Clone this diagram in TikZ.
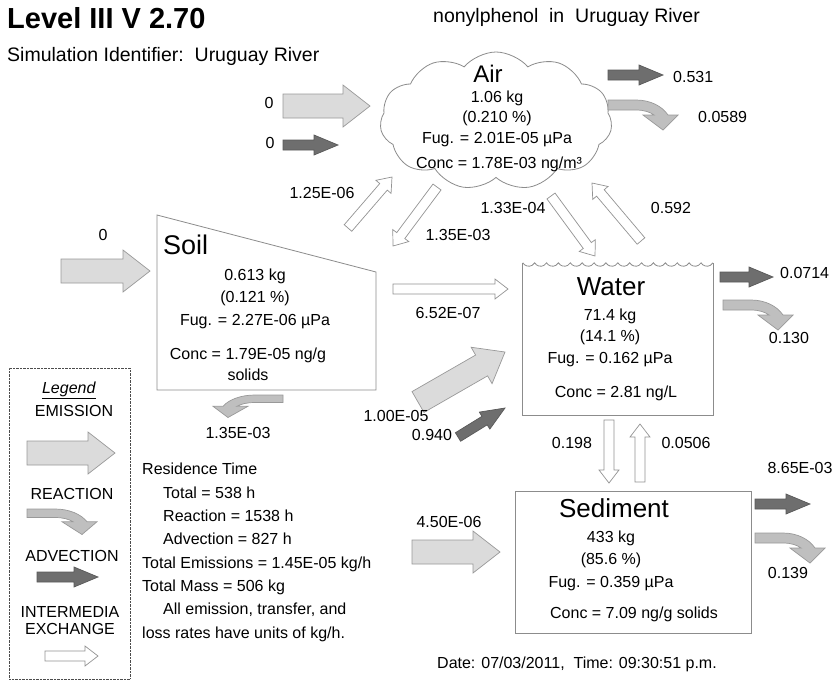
\documentclass[tikz,border=0pt]{standalone}
\usepackage{fontspec}
\setmainfont{Liberation Sans}
\usetikzlibrary{calc, shapes.symbols}

\tikzset{
  shaft/.store in=\fsh, headw/.store in=\fhw, headl/.store in=\fhl,
  emis/.style={draw=gray!80, fill=gray!28, line width=0.7pt, shaft=12pt, headw=21pt, headl=27pt},
  adv/.style={draw=black!65, fill=black!57, line width=0.7pt, shaft=5pt, headw=10pt, headl=24pt},
  inter/.style={draw=gray!85, fill=white, line width=0.7pt, shaft=5pt, headw=10pt, headl=13pt},
  reac/.style={draw=gray!80, fill=gray!50, line width=0.7pt},
  box/.style={draw=black!45, line width=0.8pt},
  txt/.style={inner sep=0pt, font=\fontsize{16}{19}\selectfont},
  big/.style={inner sep=0pt, font=\fontsize{26}{26}\selectfont},
  lossarrow/.pic={
    \draw[reac] (0,0) -- (28,0) .. controls (42,0) and (54,6) .. (60,15) -- (70,15)
      -- (55,30) -- (35,15) -- (46,15) .. controls (42,12) and (36,10) .. (28,10)
      -- (0,10) -- cycle;
  }
}

% block arrow from tail to tip
\newcommand{\flow}[3][]{%
  \path[#1, draw=none, fill=none] ($(#3)!\fhl!(#2)$) coordinate (fh);
  \draw[#1] ($(#2)!\fsh!90:(#3)$) -- ($(fh)!\fsh!90:(#3)$) -- ($(fh)!\fhw!90:(#3)$)
    -- (#3) -- ($(fh)!\fhw!-90:(#3)$) -- ($(fh)!\fsh!-90:(#3)$)
    -- ($(#2)!\fsh!-90:(#3)$) -- cycle;
}

\begin{document}
\begin{tikzpicture}[x=1pt, y=-1pt]
  \path[use as bounding box, fill=white] (0,0) rectangle (839,681);

  % headings
  \node[txt, anchor=base west, font=\bfseries\fontsize{29}{30}\selectfont] (title) at (7,28) {Level III V 2.70};
  \node[txt, anchor=base west, font=\fontsize{19.5}{20}\selectfont] (simid) at (7,61) {Simulation Identifier:\ \ Uruguay River};
  \node[txt, anchor=base west, font=\fontsize{19.5}{20}\selectfont] (chem) at (433,22) {nonylphenol\ \ in\ \ Uruguay River};

  % compartments (multi-line nodes sit on the baseline of their last line)
  \node[cloud, box, cloud puffs=11, cloud puff arc=100, aspect=1.68, minimum width=232pt, minimum height=138pt] (air) at (496,121) {};
  \node[big, font=\fontsize{24}{24}\selectfont, anchor=base] (airname) at (488,82) {Air};
  \node[txt, align=center, anchor=base, font=\fontsize{16}{20.5}\selectfont] (airdata) at (497,143) {1.06 kg\\(0.210 \%)\\Fug. = 2.01E-05 µPa};
  \node[txt, anchor=base] (airconc) at (499,168) {Conc = 1.78E-03 ng/m³};

  \draw[box] (157,215) coordinate (soilnw) -- (376,272) -- (376,390) -- (157,390) -- cycle;
  \node[big, font=\fontsize{27}{27}\selectfont, anchor=base west] (soilname) at (163,254) {Soil};
  \node[txt, align=center, anchor=base, font=\fontsize{16}{22.5}\selectfont] (soildata) at (255,325) {0.613 kg\\(0.121 \%)\\Fug. = 2.27E-06 µPa};
  \node[txt, align=center, anchor=base, font=\fontsize{16}{21}\selectfont] (soilconc) at (248,380) {Conc = 1.79E-05 ng/g\\solids};

  \node[minimum width=190pt, minimum height=152pt, inner sep=0pt] (water) at (618,339) {};
  \draw[box] (water.north west) -- (water.south west) -- (water.south east) -- (water.north east);
  \draw[box] (water.north west) \foreach \i in {1,...,16} {arc[start angle=150, end angle=30, radius=6.86]};
  \node[big, anchor=base] (watername) at (611,295) {Water};
  \node[txt, align=center, anchor=base, font=\fontsize{16}{21.5}\selectfont] (waterdata) at (610,363) {71.4 kg\\(14.1 \%)\\Fug. = 0.162 µPa};
  \node[txt, anchor=base] (waterconc) at (616,397) {Conc = 2.81 ng/L};

  \node[box, minimum width=236pt, minimum height=142pt, inner sep=0pt] (sed) at (633,562) {};
  \node[big, anchor=base] (sedname) at (614,517) {Sediment};
  \node[txt, align=center, anchor=base, font=\fontsize{16}{22.5}\selectfont] (seddata) at (611,587) {433 kg\\(85.6 \%)\\Fug. = 0.359 µPa};
  \node[txt, anchor=base] (sedconc) at (634,618) {Conc = 7.09 ng/g solids};

  % emissions
  \coordinate (eair0) at (283,106);  \coordinate (eair1) at (370,106);
  \coordinate (esoil0) at (61,271);  \coordinate (esoil1) at (150,271);
  \coordinate (ewat0) at (418,402);  \coordinate (ewat1) at (505,352);
  \coordinate (esed0) at (412,552);  \coordinate (esed1) at (500,552);
  \flow[emis]{eair0}{eair1}
  \flow[emis]{esoil0}{esoil1}
  \flow[emis]{ewat0}{ewat1}
  \flow[emis]{esed0}{esed1}

  % advection in and out
  \coordinate (aair0) at (283,145);  \coordinate (aair1) at (338,145);
  \coordinate (oair0) at (608,75);   \coordinate (oair1) at (663,75);
  \coordinate (owat0) at (720,277);  \coordinate (owat1) at (773,277);
  \coordinate (osed0) at (755,504);  \coordinate (osed1) at (810,504);
  \coordinate (awat0) at (458,437);  \coordinate (awat1) at (505,408);
  \flow[adv]{aair0}{aair1}
  \flow[adv]{oair0}{oair1}
  \flow[adv]{owat0}{owat1}
  \flow[adv]{osed0}{osed1}
  \flow[adv]{awat0}{awat1}

  % intermedia exchange
  \coordinate (sw0) at (393,289);  \coordinate (sw1) at (508,289);
  \coordinate (sa0) at (348,228);  \coordinate (sa1) at (392,177);
  \coordinate (as0) at (437,187);  \coordinate (as1) at (393,246);
  \coordinate (aw0) at (551,196);  \coordinate (aw1) at (595,256);
  \coordinate (wa0) at (641,241);  \coordinate (wa1) at (592,183);
  \coordinate (ws0) at (609,420);  \coordinate (ws1) at (609,483);
  \coordinate (sx0) at (640,482);  \coordinate (sx1) at (640,424);
  \flow[inter]{sw0}{sw1}
  \flow[inter]{sa0}{sa1}
  \flow[inter]{as0}{as1}
  \flow[inter]{aw0}{aw1}
  \flow[inter]{wa0}{wa1}
  \flow[inter]{ws0}{ws1}
  \flow[inter]{sx0}{sx1}

  % reaction losses
  \coordinate (rair) at (608,100);
  \coordinate (rwat) at (723,300);
  \coordinate (rsed) at (755,533);
  \coordinate (rsoil) at (283,395);
  \pic at (rair) {lossarrow};
  \pic at (rwat) {lossarrow};
  \pic at (rsed) {lossarrow};
  \pic[xscale=-1, yscale=0.75] at (rsoil) {lossarrow};

  % rates
  \node[txt] (l1) at (269,103) {0};
  \node[txt] (l2) at (270,143) {0};
  \node[txt, anchor=west] (l3) at (673,77) {0.531};
  \node[txt, anchor=west] (l4) at (698,117) {0.0589};
  \node[txt] (l5) at (322,193) {1.25E-06};
  \node[txt] (l6) at (458,235) {1.35E-03};
  \node[txt] (l7) at (513,208) {1.33E-04};
  \node[txt] (l8) at (671,208) {0.592};
  \node[txt] (l9) at (103,235) {0};
  \node[txt] (l10) at (448,313) {6.52E-07};
  \node[txt] (l11) at (396,416) {1.00E-05};
  \node[txt] (l12) at (432,435) {0.940};
  \node[txt, anchor=west] (l13) at (780,273) {0.0714};
  \node[txt] (l14) at (789,338) {0.130};
  \node[txt] (l15) at (572,443) {0.198};
  \node[txt] (l16) at (686,443) {0.0506};
  \node[txt] (l17) at (238,433) {1.35E-03};
  \node[txt] (l18) at (449,522) {4.50E-06};
  \node[txt] (l19) at (800,468) {8.65E-03};
  \node[txt] (l20) at (788,573) {0.139};

  % legend
  \node[draw=black!70, densely dotted, minimum width=121pt, minimum height=311pt, inner sep=0pt] (legend) at (69.5,523.5) {};
  \node[txt, anchor=base] (legtitle) at (69,393) {\underline{\textit{Legend}}};
  \node[txt, anchor=base] (legemis) at (74,416) {EMISSION};
  \node[txt, anchor=base] (legreac) at (72,499) {REACTION};
  \node[txt, anchor=base] (legadv) at (72,561) {ADVECTION};
  \node[txt, anchor=base, align=center, font=\fontsize{16}{17}\selectfont] (leginter) at (70,634) {INTERMEDIA\\EXCHANGE};
  \coordinate (lg1a) at (27,453);  \coordinate (lg1b) at (115,453);
  \coordinate (lg3a) at (37,577);  \coordinate (lg3b) at (98,577);
  \coordinate (lg4a) at (45,656);  \coordinate (lg4b) at (98,656);
  \flow[emis]{lg1a}{lg1b}
  \pic[yscale=0.85] at (27,509) {lossarrow};
  \flow[adv]{lg3a}{lg3b}
  \flow[inter]{lg4a}{lg4b}

  % summary
  \node[txt, anchor=base west, align=left, font=\fontsize{16}{23.3}\selectfont] (summary) at (142,638)
    {Residence Time\\
     \hspace*{21pt}Total = 538 h\\
     \hspace*{21pt}Reaction = 1538 h\\
     \hspace*{21pt}Advection = 827 h\\
     Total Emissions = 1.45E-05 kg/h\\
     Total Mass = 506 kg\\
     \hspace*{21pt}All emission, transfer, and\\
     loss rates have units of kg/h.};
  \node[txt, anchor=base west] (date) at (437,668) {Date: 07/03/2011,\ \ Time: 09:30:51 p.m.};
\end{tikzpicture}
\end{document}
